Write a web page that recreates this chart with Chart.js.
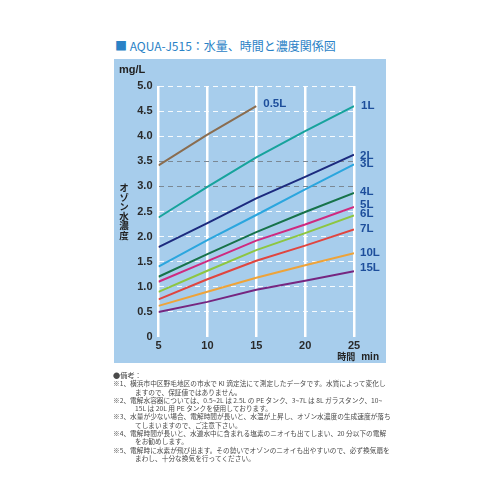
<!DOCTYPE html>
<html lang="ja">
<head>
<meta charset="utf-8">
<script src="https://cdn.jsdelivr.net/npm/chart.js@4.4.1/dist/chart.umd.min.js"></script>
<style>
  html, body { margin: 0; padding: 0; background: #fff; }
  body { width: 500px; height: 500px; position: relative; overflow: hidden; font-family: "Noto Sans CJK JP", "Noto Sans", sans-serif; }
  #title { position: absolute; left: 115px; top: 38px; font-size: 12px; color: #2a82c6; white-space: nowrap; line-height: 16px; }
  #panel { position: absolute; left: 114px; top: 59px; width: 272px; height: 304px; background: #a7cdec; }
  #panel canvas { position: absolute; left: 0; top: 0; }
  #unit { position: absolute; left: 5px; top: 4px; font: bold 11px "Liberation Sans", sans-serif; color: #222; }
  #ytitle { position: absolute; left: 4px; top: 124px; writing-mode: vertical-rl; font-weight: bold; font-size: 9.5px; color: #222; line-height: 11px; }
  #xtitle { position: absolute; right: 7px; top: 291px; font-size: 9px; color: #222; font-weight: bold; white-space: nowrap; }
  #xtitle span { font: bold 10px "Liberation Sans", sans-serif; margin-left: 6px; }
  #notes { position: absolute; left: 113px; top: 371px; width: 290px; font-size: 6.7px; color: #4a4a4a; line-height: 8.3px; }
  #notes .l { white-space: nowrap; }
  #notes .i { padding-left: 22px; }
  #notes .h { font-size: 7.2px; }
</style>
</head>
<body>
<div id="title">■ AQUA-J515：水量、時間と濃度関係図</div>
<div id="panel">
  <canvas id="c" width="272" height="304"></canvas>
  <div id="unit">mg/L</div>
  <div id="ytitle">オゾン水濃度</div>
  <div id="xtitle">時間<span>min</span></div>
</div>
<div id="notes">
  <div class="l h">●備考：</div>
  <div class="l">※1、横浜市中区野毛地区の市水で KI 滴定法にて測定したデータです。水質によって変化し</div>
  <div class="l i">ますので、保証値ではありません。</div>
  <div class="l">※2、電解水容器については、0.5~2L は 2.5L の PE タンク、3~7L は 8L ガラスタンク、10~</div>
  <div class="l i">15L は 20L 用 PE タンクを使用しております。</div>
  <div class="l">※3、水量が少ない場合、電解時間が長いと、水温が上昇し、オゾン水濃度の生成速度が落ち</div>
  <div class="l i">てしまいますので、ご注意下さい。</div>
  <div class="l">※4、電解時間が長いと、水道水中に含まれる塩素のニオイも出てしまい、20 分以下の電解</div>
  <div class="l i">をお勧めします。</div>
  <div class="l">※5、電解時に水素が飛び出ます。その勢いでオゾンのニオイも出やすいので、必ず換気扇を</div>
  <div class="l i">まわし、十分な換気を行ってください。</div>
</div>
<script>
// ---- data ----
const times = [5, 10, 15, 20, 25];
const xTicks = [5, 10, 15, 20, 25];
const yTicks = [0, 0.5, 1.0, 1.5, 2.0, 2.5, 3.0, 3.5, 4.0, 4.5, 5.0];
const seriesNames = ["0.5L", "1L", "2L", "3L", "4L", "5L", "6L", "7L", "10L", "15L"];
const v05 = [3.42, 4.03, 4.60];
const v1  = [2.38, 2.99, 3.58, 4.10, 4.60];
const v2  = [1.79, 2.27, 2.76, 3.19, 3.63];
const v3  = [1.40, 1.93, 2.43, 2.94, 3.44];
const v4  = [1.20, 1.65, 2.09, 2.49, 2.87];
const v5  = [1.10, 1.51, 1.92, 2.24, 2.59];
const v6  = [0.90, 1.32, 1.73, 2.07, 2.42];
const v7  = [0.75, 1.15, 1.52, 1.82, 2.14];
const v10 = [0.62, 0.90, 1.18, 1.43, 1.67];
const v15 = [0.50, 0.70, 0.94, 1.12, 1.31];
const seriesValues = [v05, v1, v2, v3, v4, v5, v6, v7, v10, v15];

// ---- style ----
const colors = ["#8a6d50", "#17a39c", "#1c2a7e", "#2ba6de", "#17734a", "#cf2a7f", "#8dc640", "#e0453f", "#eea339", "#762680"];
const labelOffsets = [[7, -2], [7, 0], [6, 1], [6, 0], [6, -1], [6, -2], [6, -2], [6, -1], [6, 0], [6, -3]];
const tickFont = { family: "'Liberation Sans', sans-serif", size: 11, weight: "bold" };

const datasets = seriesNames.map((name, i) => ({
  label: name,
  data: seriesValues[i].map((v, k) => ({ x: times[k], y: v })),
  borderColor: colors[i],
  borderWidth: 2,
  pointRadius: 0,
  fill: false,
  tension: 0
}));

const endLabels = {
  id: "endLabels",
  afterDatasetsDraw(chart) {
    const ctx = chart.ctx;
    ctx.save();
    ctx.font = "bold 11.5px 'Liberation Sans Narrow', 'Liberation Sans', sans-serif";
    ctx.fillStyle = "#1d4e9b";
    ctx.textBaseline = "middle";
    ctx.textAlign = "left";
    chart.data.datasets.forEach((ds, i) => {
      const meta = chart.getDatasetMeta(i);
      const p = meta.data[meta.data.length - 1];
      const [dx, dy] = labelOffsets[i];
      ctx.fillText(ds.label, p.x + dx, p.y + dy);
    });
    ctx.restore();
  }
};

new Chart(document.getElementById("c"), {
  type: "line",
  data: { datasets },
  options: {
    responsive: false,
    animation: false,
    layout: { padding: { left: 0, top: 27, right: 32, bottom: 0 } },
    plugins: { legend: { display: false }, tooltip: { enabled: false } },
    scales: {
      x: {
        type: "linear",
        min: xTicks[0], max: xTicks[xTicks.length - 1],
        afterBuildTicks: s => { s.ticks = xTicks.map(v => ({ value: v })); },
        afterFit: s => { s.height = 26; },
        border: { display: false },
        grid: { color: "#ffffff", lineWidth: 2.5, drawTicks: false },
        ticks: { font: tickFont, color: "#2a2a2a", padding: 2 }
      },
      y: {
        type: "linear",
        min: 0, max: 5,
        afterBuildTicks: s => { s.ticks = yTicks.map(v => ({ value: v })); },
        afterFit: s => { s.width = 44.5; },
        border: { display: false, dash: [5, 4] },
        grid: {
          drawTicks: false,
          lineWidth: 1,
          color: c => {
            const v = c.tick ? c.tick.value : null;
            if (v === 0) return "rgba(0,0,0,0)";
            if (v === 3 || v === 3.5) return "#7b8894";
            return "rgba(255,255,255,0.9)";
          }
        },
        ticks: {
          font: tickFont, color: "#2a2a2a", padding: 6,
          callback: v => (v === 0 ? "0" : Number(v).toFixed(1))
        }
      }
    }
  },
  plugins: [endLabels]
});
</script>
</body>
</html>
